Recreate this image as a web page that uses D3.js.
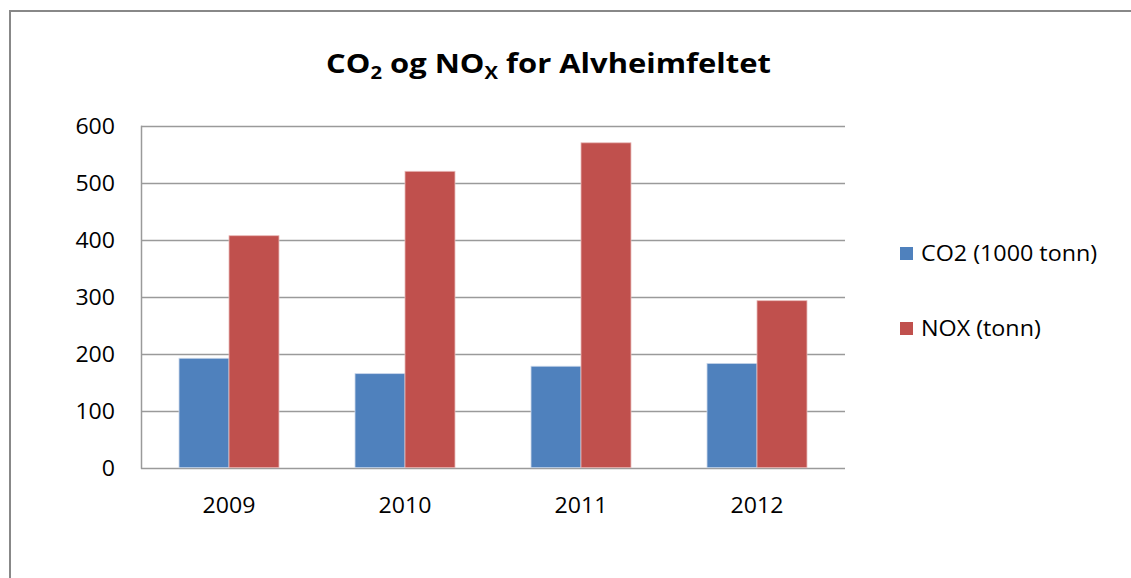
<!DOCTYPE html>
<html>
<head>
<meta charset="utf-8">
<script src="https://cdn.jsdelivr.net/npm/d3@7"></script>
<style>
  html, body { margin: 0; padding: 0; background: #fff; }
  svg { display: block; }
  text { font-family: "Open Sans", "Noto Sans", sans-serif; fill: #000; }
</style>
</head>
<body>
<svg id="chart" width="1131" height="578"></svg>
<script>
// Emissions per year for the Alvheim field
const years = ["2009", "2010", "2011", "2012"];
const seriesNames = ["CO2 (1000 tonn)", "NOX (tonn)"];
const co2 = [192, 165, 178, 183];
const nox = [407, 520, 570, 293];
const yTicks = [0, 100, 200, 300, 400, 500, 600];
const colors = ["#4F81BD", "#C0504D"];

const rows = years.map((y, i) => ({ year: y, values: [co2[i], nox[i]] }));

const svg = d3.select("#chart");
const W = 1131, H = 578;
const TEXT_SX = 1.1; // slightly wide lettering

// stretch a text element horizontally around its anchor point
function widen(sel, sx) {
  sel.each(function () {
    const t = d3.select(this);
    const ax = +t.attr("x") || 0;
    t.attr("transform", `translate(${ax},0) scale(${sx},1) translate(${-ax},0)`);
  });
}

// outer chart frame
svg.append("rect")
  .attr("x", 10).attr("y", 11)
  .attr("width", W + 20).attr("height", H + 20)
  .attr("fill", "#fff").attr("stroke", "#888").attr("stroke-width", 2);

const plot = { left: 141, right: 845, top: 125.7, bottom: 467.7 };

const x = d3.scaleBand().domain(years).range([plot.left, plot.right]).paddingInner(0.432).paddingOuter(0.216);
const xs = d3.scaleBand().domain([0, 1]).range([0, x.bandwidth()]);
const y = d3.scaleLinear().domain([0, 600]).range([plot.bottom, plot.top]);

// gridlines
svg.append("g")
  .selectAll("line").data(yTicks).join("line")
  .attr("x1", plot.left).attr("x2", plot.right)
  .attr("y1", d => Math.round(y(d)) + 0.5).attr("y2", d => Math.round(y(d)) + 0.5)
  .attr("stroke", "#9a9a9a").attr("stroke-width", 1.5);

// left axis line
svg.append("line")
  .attr("x1", plot.left + 0.5).attr("x2", plot.left + 0.5)
  .attr("y1", y(600)).attr("y2", y(0) + 1)
  .attr("stroke", "#9a9a9a").attr("stroke-width", 1.5);

// bars
svg.append("g")
  .selectAll("g").data(rows).join("g")
  .attr("transform", d => `translate(${x(d.year)},0)`)
  .selectAll("rect").data(d => d.values.map((v, k) => ({ v, k }))).join("rect")
  .attr("x", d => xs(d.k))
  .attr("width", xs.bandwidth())
  .attr("y", d => y(d.v))
  .attr("height", d => y(0) - y(d.v))
  .attr("fill", d => colors[d.k])
  .attr("stroke", d => d.k === 0 ? "#c9d7ea" : "#e8b9b8")
  .attr("stroke-width", 0.8);

// y axis labels
const yAxis = d3.axisLeft(y).tickValues(yTicks).tickSize(0).tickPadding(26);
const gy = svg.append("g").attr("transform", `translate(${plot.left},0)`).call(yAxis);
gy.select(".domain").remove();
gy.selectAll("text").attr("font-size", 21).attr("font-family", "Open Sans").attr("fill", "#000").attr("dy", "0.36em");
widen(gy.selectAll("text"), TEXT_SX);

// x axis labels
const xAxis = d3.axisBottom(x).tickSize(0).tickPadding(30);
const gx = svg.append("g").attr("transform", `translate(0,${plot.bottom})`).call(xAxis);
gx.select(".domain").remove();
gx.selectAll("text").attr("font-size", 21).attr("font-family", "Open Sans").attr("fill", "#000");
widen(gx.selectAll("text"), TEXT_SX);

// title with subscripts
const titleX = 548.5;
const title = svg.append("text")
  .attr("x", titleX).attr("y", 73)
  .attr("text-anchor", "middle")
  .attr("font-size", 26).attr("font-weight", "bold");
title.append("tspan").text("CO");
title.append("tspan").text("2").attr("font-size", 17).attr("dy", 6);
title.append("tspan").text(" og NO").attr("dy", -6);
title.append("tspan").text("X").attr("font-size", 17).attr("dy", 6);
title.append("tspan").text(" for Alvheimfeltet").attr("dy", -6);
const titleW = title.node().getBBox().width;
widen(title, 445 / titleW);

// legend
const legend = svg.append("g")
  .selectAll("g").data(seriesNames).join("g")
  .attr("transform", (d, i) => `translate(900,${247 + i * 75})`);
legend.append("rect")
  .attr("width", 13).attr("height", 13)
  .attr("fill", (d, i) => colors[i]);
const legendText = legend.append("text")
  .attr("x", 21).attr("y", 6.5).attr("dy", "0.36em")
  .attr("font-size", 21)
  .text(d => d);
widen(legendText, 1.11);
</script>
</body>
</html>
